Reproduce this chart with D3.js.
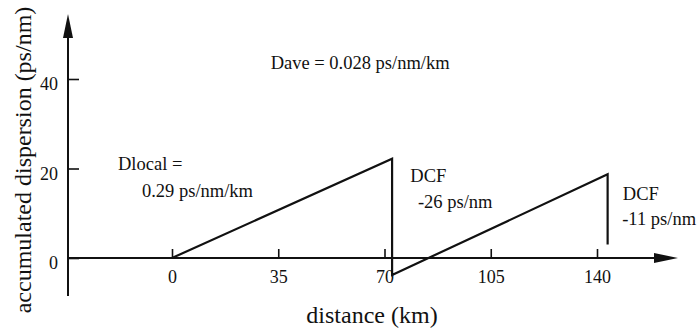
<!DOCTYPE html>
<html>
<head>
<meta charset="utf-8">
<script src="https://cdn.jsdelivr.net/npm/d3@7"></script>
<style>
  html, body { margin: 0; padding: 0; background: #fff; }
  svg { display: block; }
  text { font-family: "Liberation Serif", "Times New Roman", serif; fill: #111; }
</style>
</head>
<body>
<svg id="chart" width="699" height="331"></svg>
<script>
// Accumulated dispersion along the link (km, ps/nm)
const distance   = [0, 72.5, 72.5, 143.5, 143.5];
const dispersion = [0, 22.2, -3.8, 18.7, 3.0];

const xTicks = [0, 35, 70, 105, 140];
const yTicks = [0, 20, 40];

const annotations = [
  { text: "Dave = 0.028 ps/nm/km", d: 32.5, v: 42.3 },
  { text: "Dlocal =",              d: -17.8, v: 19.6 },
  { text: "0.29 ps/nm/km",         d: -9.9,  v: 13.7 },
  { text: "DCF",                   d: 78.5,  v: 17.0 },
  { text: "-26 ps/nm",             d: 81.0,  v: 11.2 },
  { text: "DCF",                   d: 148.5, v: 13.0 },
  { text: "-11 ps/nm",             d: 148.3, v: 7.4 }
];

const svg = d3.select("#chart");
const ink = "#111";

const x = d3.scaleLinear().domain([0, 140]).range([172, 597]);
const y = d3.scaleLinear().domain([0, 40]).range([258, 79]);

const xAxisStart = 68, xAxisEnd = 678;
const yAxisBottom = 296, yAxisTop = 14;
const y0 = y(0), xOrigin = xAxisStart;

const g = svg.append("g");

// Horizontal axis with arrow head
g.append("line")
  .attr("x1", xAxisStart).attr("x2", xAxisEnd - 20)
  .attr("y1", y0).attr("y2", y0)
  .attr("stroke", ink).attr("stroke-width", 2);
g.append("path")
  .attr("d", `M${xAxisEnd},${y0} L${xAxisEnd - 24},${y0 - 5} L${xAxisEnd - 24},${y0 + 5} Z`)
  .attr("fill", ink);

// Vertical axis with arrow head
g.append("line")
  .attr("x1", xOrigin).attr("x2", xOrigin)
  .attr("y1", yAxisBottom).attr("y2", yAxisTop + 20)
  .attr("stroke", ink).attr("stroke-width", 2);
g.append("path")
  .attr("d", `M${xOrigin},${yAxisTop} L${xOrigin - 5},${yAxisTop + 24} L${xOrigin + 5},${yAxisTop + 24} Z`)
  .attr("fill", ink);

// Tick marks and labels
const xAxis = d3.axisBottom(x).tickValues(xTicks).tickSizeInner(-9).tickSizeOuter(0).tickPadding(12);
const xg = g.append("g").attr("transform", `translate(0,${y0})`).call(xAxis);
xg.select(".domain").remove();
xg.selectAll(".tick line").attr("stroke", ink).attr("stroke-width", 1.6);
xg.selectAll(".tick text").attr("font-size", 18).attr("fill", ink);

const yAxis = d3.axisLeft(y).tickValues(yTicks).tickSizeInner(-11).tickSizeOuter(0).tickPadding(10);
const yg = g.append("g").attr("transform", `translate(${xOrigin},0)`).call(yAxis);
yg.select(".domain").remove();
yg.selectAll(".tick line").attr("stroke", ink).attr("stroke-width", 1.6);
yg.selectAll(".tick text").attr("font-size", 18).attr("fill", ink).attr("dy", "0.6em");

// Dispersion map
const pts = distance.map((d, i) => [d, dispersion[i]]);
g.append("path")
  .datum(pts)
  .attr("d", d3.line().x(p => x(p[0])).y(p => y(p[1])))
  .attr("fill", "none").attr("stroke", ink).attr("stroke-width", 2.2)
  .attr("stroke-linejoin", "miter");

// Annotations
g.selectAll("text.note")
  .data(annotations)
  .join("text")
  .attr("class", "note")
  .attr("x", a => x(a.d)).attr("y", a => y(a.v))
  .attr("font-size", 18.5)
  .text(a => a.text);

// Axis titles
g.append("text")
  .attr("x", 372).attr("y", 323)
  .attr("text-anchor", "middle")
  .attr("font-size", 24)
  .text("distance (km)");

g.append("text")
  .attr("transform", "translate(31,160) rotate(-90)")
  .attr("text-anchor", "middle")
  .attr("font-size", 24)
  .text("accumulated dispersion (ps/nm)");
</script>
</body>
</html>
